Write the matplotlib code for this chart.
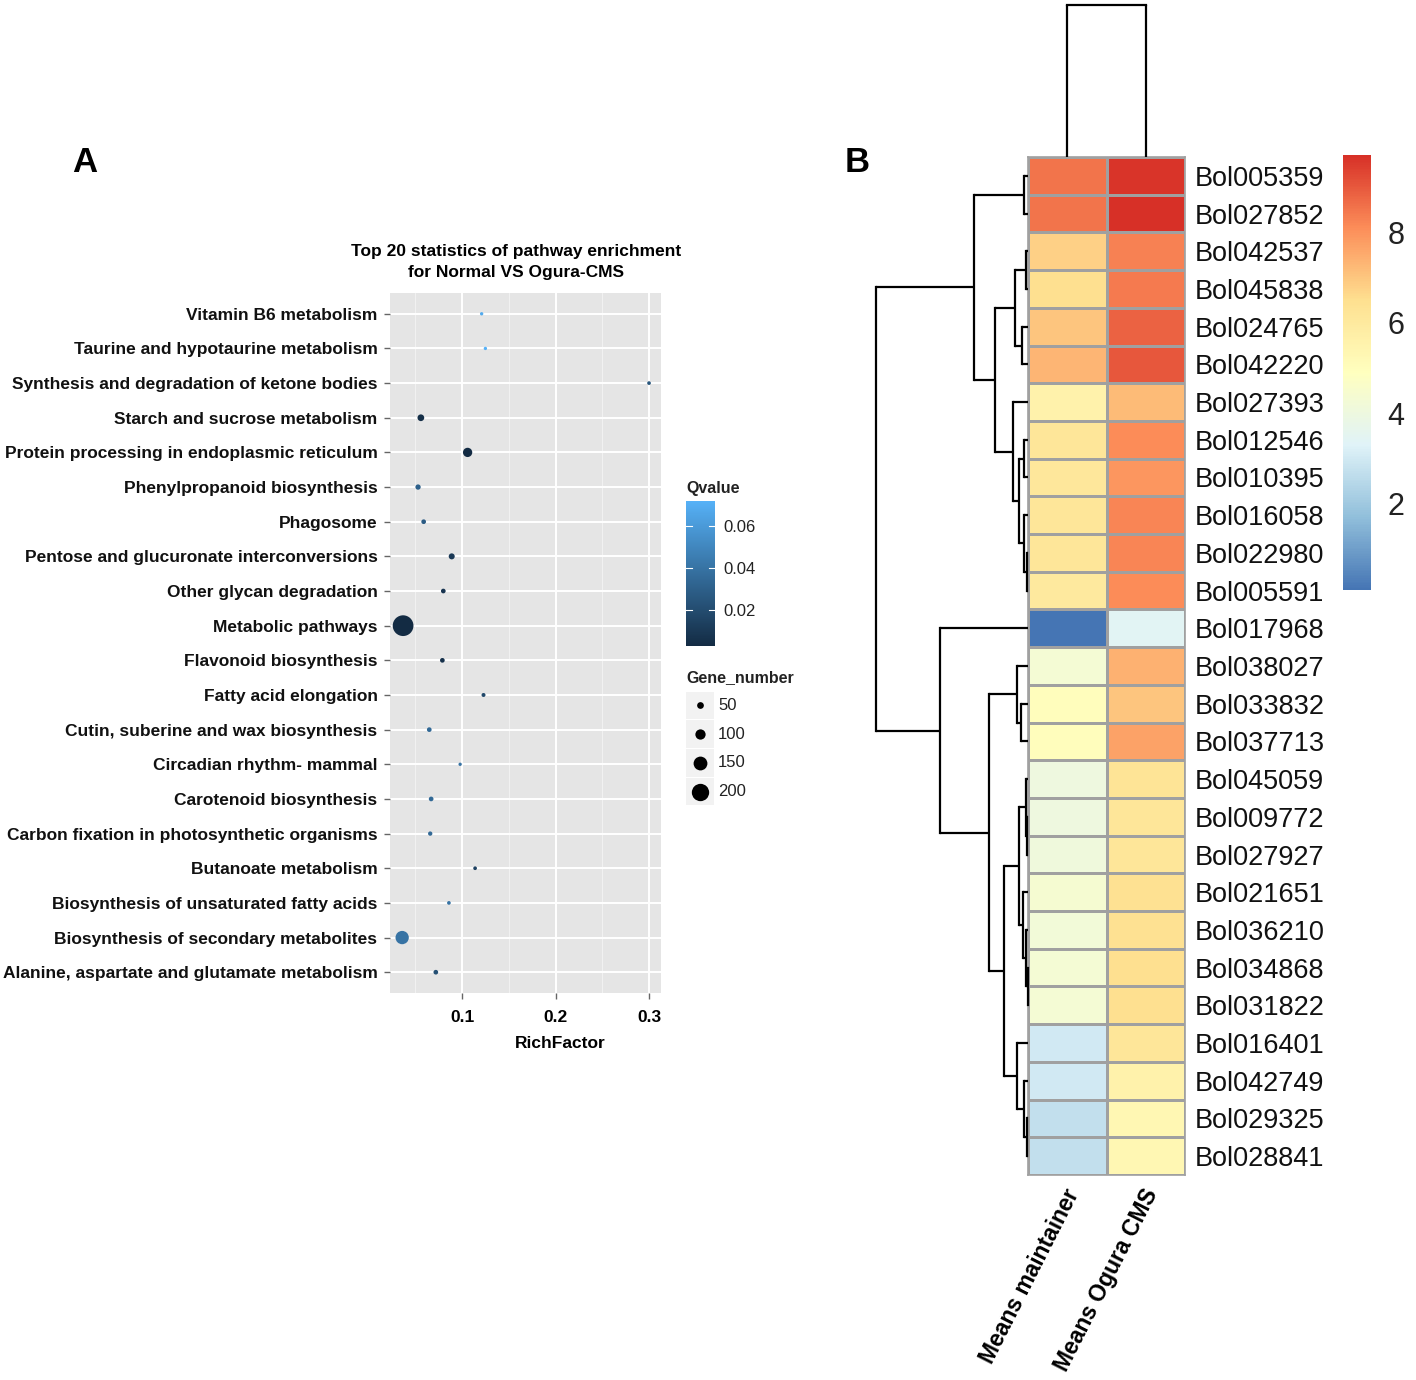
import numpy as np
import matplotlib
matplotlib.use('Agg')
import matplotlib.pyplot as plt
from matplotlib.colors import LinearSegmentedColormap
from matplotlib.patches import Rectangle
from matplotlib.transforms import ScaledTranslation

plt.rcParams['font.family'] = ['Liberation Sans', 'DejaVu Sans']

# ---- panel A: KEGG enrichment ----
pathways = ['Vitamin B6 metabolism', 'Taurine and hypotaurine metabolism',
            'Synthesis and degradation of ketone bodies', 'Starch and sucrose metabolism',
            'Protein processing in endoplasmic reticulum', 'Phenylpropanoid biosynthesis',
            'Phagosome', 'Pentose and glucuronate interconversions',
            'Other glycan degradation', 'Metabolic pathways', 'Flavonoid biosynthesis',
            'Fatty acid elongation', 'Cutin, suberine and wax biosynthesis',
            'Circadian rhythm- mammal', 'Carotenoid biosynthesis',
            'Carbon fixation in photosynthetic organisms', 'Butanoate metabolism',
            'Biosynthesis of unsaturated fatty acids', 'Biosynthesis of secondary metabolites',
            'Alanine, aspartate and glutamate metabolism']
rich_factor = [0.121, 0.125, 0.300, 0.056, 0.106, 0.053, 0.059, 0.089, 0.080, 0.037,
               0.079, 0.123, 0.065, 0.098, 0.067, 0.066, 0.114, 0.086, 0.036, 0.072]
qvalue = [0.068, 0.072, 0.025, 0.005, 0.003, 0.030, 0.028, 0.010, 0.008, 0.003,
          0.006, 0.018, 0.035, 0.040, 0.035, 0.035, 0.015, 0.040, 0.040, 0.022]
gene_number = [2, 2, 7, 50, 86, 30, 21, 40, 21, 248,
               21, 11, 21, 2, 21, 16, 7, 7, 143, 21]
size_breaks = [50, 100, 150, 200]
q_ticks = [0.02, 0.04, 0.06]
x_ticks = [0.1, 0.2, 0.3]

# ---- panel B: heatmap ----
genes = ['Bol005359', 'Bol027852', 'Bol042537', 'Bol045838', 'Bol024765', 'Bol042220',
         'Bol027393', 'Bol012546', 'Bol010395', 'Bol016058', 'Bol022980', 'Bol005591',
         'Bol017968', 'Bol038027', 'Bol033832', 'Bol037713', 'Bol045059', 'Bol009772',
         'Bol027927', 'Bol021651', 'Bol036210', 'Bol034868', 'Bol031822', 'Bol016401',
         'Bol042749', 'Bol029325', 'Bol028841']
samples = ['Means maintainer', 'Means Ogura CMS']
maintainer = [8.5, 8.5, 6.8, 6.5, 7.0, 7.3, 5.6, 6.2, 6.1, 6.2, 6.2, 6.0, 0.1, 4.3,
              5.0, 5.0, 4.0, 4.0, 4.1, 4.4, 4.2, 4.3, 4.3, 3.0, 3.0, 2.7, 2.7]
ogura = [9.6, 9.7, 8.3, 8.4, 8.8, 9.0, 7.2, 8.1, 7.9, 8.2, 8.2, 8.1, 3.4, 7.4,
         7.0, 7.7, 6.3, 6.2, 6.2, 6.4, 6.4, 6.5, 6.5, 6.2, 5.6, 5.3, 5.3]
# row linkage in leaf (display) order: (child_a, child_b, height); ids >= 27 are merges
row_links = [(0, 1, 0.4), (2, 3, 0.2), (4, 5, 0.6), (28, 29, 1.3), (7, 8, 0.4),
             (10, 11, 0.1), (9, 32, 0.4), (31, 33, 0.9), (6, 34, 1.5), (30, 35, 3.3),
             (27, 36, 5.4), (14, 15, 0.7), (13, 38, 1.1), (17, 18, 0.1), (16, 40, 0.2),
             (21, 22, 0.05), (20, 42, 0.25), (19, 43, 0.47), (41, 44, 0.9), (25, 26, 0.1),
             (24, 46, 0.4), (23, 47, 1.1), (45, 48, 2.4), (39, 49, 3.9), (12, 50, 8.8),
             (37, 51, 15.2)]
col_links = [(0, 1, 1.0)]
heat_ticks = [2, 4, 6, 8]

W, H = 1416, 1380
fig = plt.figure(figsize=(W / 100, H / 100), dpi=100)


def px_axes(x0, y0, x1, y1):
    return fig.add_axes([x0 / W, 1 - y1 / H, (x1 - x0) / W, (y1 - y0) / H])


def dot_size(n):
    d_px = 3.2 + 0.0707 * np.asarray(n, dtype=float)
    return (d_px * 0.72) ** 2


def draw_dendro(ax, links, n, vertical):
    pos = {i: i + 0.5 for i in range(n)}
    hgt = {i: 0.0 for i in range(n)}
    for k, (a, b, h) in enumerate(links):
        for c in (a, b):
            seg = ([hgt[c], h], [pos[c], pos[c]])
            if vertical:
                seg = seg[::-1]
            ax.plot(*seg, color='black', lw=1.6, clip_on=False, solid_capstyle='butt')
        seg = ([h, h], [pos[a], pos[b]])
        if vertical:
            seg = seg[::-1]
        ax.plot(*seg, color='black', lw=1.6, clip_on=False, solid_capstyle='projecting')
        pos[n + k] = (pos[a] + pos[b]) / 2
        hgt[n + k] = h
    ax.axis('off')


# ================= Panel A =================
q_cmap = LinearSegmentedColormap.from_list('gg', ['#132B43', '#56B1F7'])
qmin, qmax = min(qvalue), max(qvalue)

ax = px_axes(390, 293, 661, 993)
ax.set_facecolor('#E5E5E5')
ypos = np.arange(len(pathways), 0, -1)
ax.scatter(rich_factor, ypos, s=dot_size(gene_number), c=qvalue, cmap=q_cmap,
           vmin=qmin, vmax=qmax, linewidths=0, zorder=3)
ax.set_xlim(0.023, 0.3128)
ax.set_ylim(0.4, len(pathways) + 0.6)
ax.set_xticks(x_ticks)
ax.set_xticklabels([f'{t:.1f}' for t in x_ticks], fontsize=12.5, fontweight='bold')
shift = ScaledTranslation(6 / 100, 0, fig.dpi_scale_trans)
for lab in ax.get_xticklabels():
    lab.set_transform(lab.get_transform() + shift)
ax.set_xticks([0.05, 0.15, 0.25], minor=True)
ax.set_yticks(ypos)
ax.set_yticklabels(pathways, fontsize=12.5, fontweight='bold', color='#111111')
ax.grid(True, which='major', color='white', lw=1.4)
ax.grid(True, which='minor', axis='x', color='#F4F4F4', lw=0.6)
ax.set_axisbelow(True)
ax.tick_params(axis='y', which='major', length=4, width=1, color='#666666', pad=5)
ax.tick_params(axis='x', which='major', length=4, width=1, color='#666666', pad=8)
ax.tick_params(axis='x', which='minor', length=0)
for s in ax.spines.values():
    s.set_visible(False)
ax.set_xlabel('RichFactor', fontsize=12.5, fontweight='bold')
ax.xaxis.set_label_coords(0.63, -0.061)
fig.text(516 / W, 1 - 262 / H,
         'Top 20 statistics of pathway enrichment\nfor Normal VS Ogura-CMS',
         ha='center', va='center', fontsize=12.5, fontweight='bold', linespacing=1.45)
fig.text(85 / W, 1 - 163 / H, 'A', ha='center', va='center', fontsize=25, fontweight='bold')

# Qvalue colour bar
fig.text(686 / W, 1 - 488 / H, 'Qvalue', ha='left', va='center', fontsize=11.5,
         fontweight='bold', color='#222222')
cax = px_axes(686, 501, 715, 646)
sm = plt.cm.ScalarMappable(cmap=q_cmap, norm=plt.Normalize(qmin, qmax))
cb = fig.colorbar(sm, cax=cax, ticks=q_ticks)
cb.outline.set_visible(False)
cb.ax.tick_params(length=0, labelsize=12, pad=6, labelcolor='#222222')
cb.ax.set_yticklabels([f'{t:.2f}' for t in q_ticks])
for t in q_ticks:
    cax.plot([0, 0.2], [t, t], color='white', lw=0.8)
    cax.plot([0.8, 1], [t, t], color='white', lw=0.8)

# Gene_number legend
fig.text(686 / W, 1 - 678 / H, 'Gene_number', ha='left', va='center', fontsize=11.5,
         fontweight='bold', color='#222222')
lax = px_axes(686, 691, 786, 806)
lax.set_xlim(0, 100)
lax.set_ylim(len(size_breaks), 0)
lax.axis('off')
for i, n in enumerate(size_breaks):
    lax.add_patch(Rectangle((0, i + 0.02), 28, 0.96, facecolor='#F2F2F2', edgecolor='none'))
    lax.scatter([14], [i + 0.5], s=dot_size(n), color='black', linewidths=0)
    lax.text(32, i + 0.5, str(n), ha='left', va='center', fontsize=12, color='#222222')

# ================= Panel B =================
fig.text(857 / W, 1 - 163 / H, 'B', ha='center', va='center', fontsize=25, fontweight='bold')
heat_cmap = LinearSegmentedColormap.from_list(
    'rdylbu', ['#4575B4', '#91BFDB', '#E0F3F8', '#FFFFBF', '#FEE090', '#FC8D59', '#D73027'])
vals = np.column_stack([maintainer, ogura])
vmin, vmax = vals.min(), vals.max()

hax = px_axes(1028, 157, 1185, 1175)
mesh = hax.pcolormesh(vals, cmap=heat_cmap, vmin=vmin, vmax=vmax,
                      edgecolors='#A0A0A0', linewidth=0.8)
hax.set_xlim(0, 2)
hax.set_ylim(len(genes), 0)
hax.yaxis.tick_right()
hax.set_yticks(np.arange(len(genes)) + 0.5)
hax.set_yticklabels(genes, fontsize=19.5, color='#111111')
hax.tick_params(axis='y', length=0, pad=7)
hax.set_xticks([])
for s in hax.spines.values():
    s.set_color('#A0A0A0')
    s.set_linewidth(1.2)
for i, name in enumerate(samples):
    hax.text(i + 0.58, len(genes) + 0.4, name, rotation=63, rotation_mode='anchor',
             ha='right', va='center', fontsize=16.5, fontweight='bold')

# dendrograms
rax = px_axes(876, 157, 1028, 1175)
rax.set_xlim(max(h for _, _, h in row_links), 0)
rax.set_ylim(len(genes), 0)
draw_dendro(rax, row_links, len(genes), vertical=False)

tax = px_axes(1028, 5, 1185, 157)
tax.set_xlim(0, 2)
tax.set_ylim(0, max(h for _, _, h in col_links))
draw_dendro(tax, col_links, 2, vertical=True)

# heatmap colour bar
hcax = px_axes(1343, 155, 1371, 590)
hcb = fig.colorbar(mesh, cax=hcax, ticks=heat_ticks)
hcb.outline.set_visible(False)
hcb.ax.tick_params(length=0, labelsize=22, pad=12, labelcolor='#222222')

fig.savefig('out.png', dpi=100)
